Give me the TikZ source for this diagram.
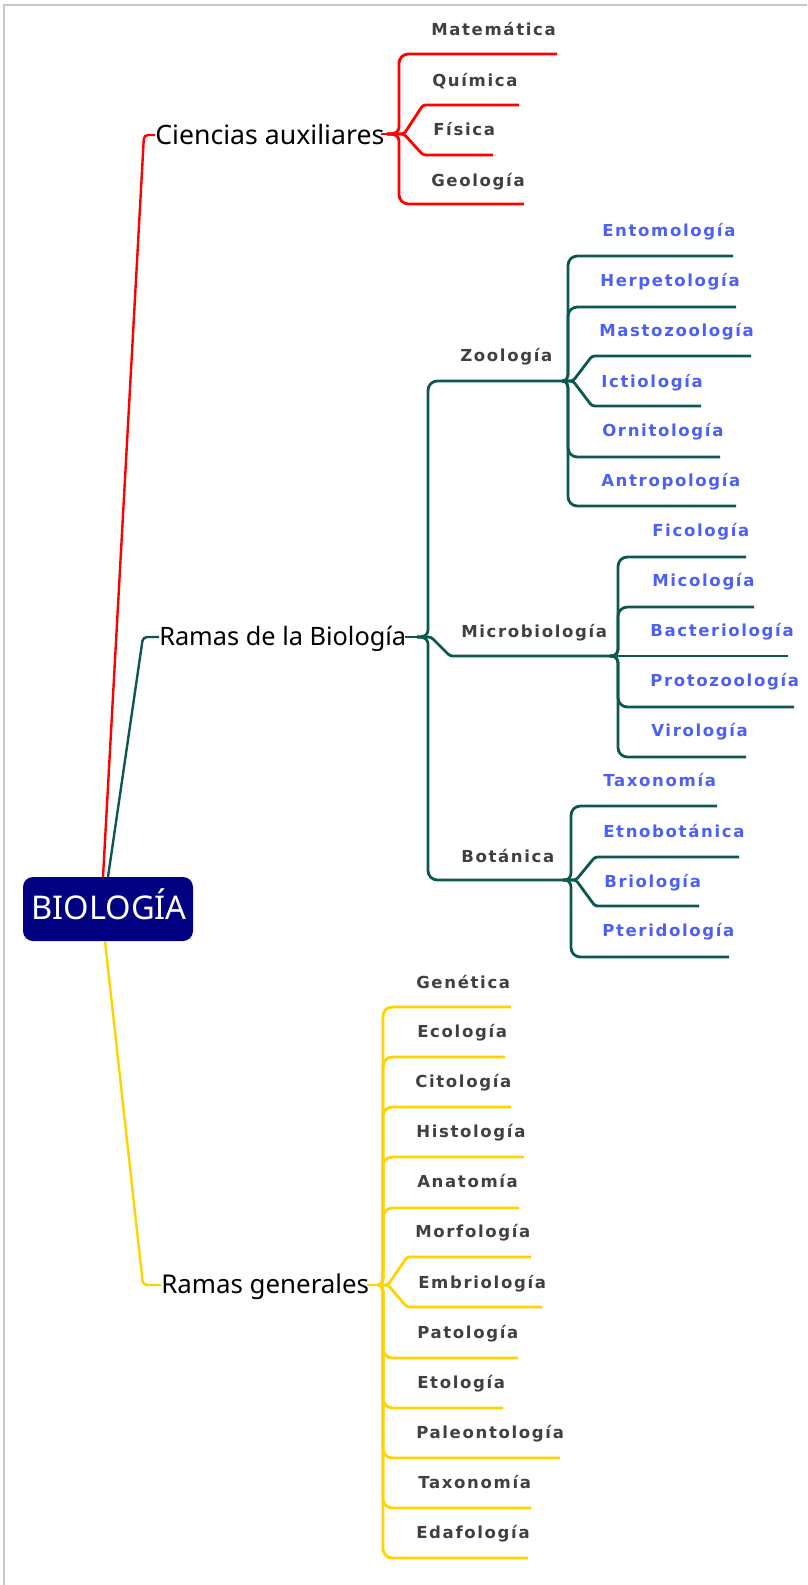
\documentclass[tikz,border=0pt]{standalone}
\usepackage{fontspec}
\setmainfont{Noto Sans}
\IfFontExistsTF{Noto Sans Bold}
  {\newfontfamily\lblfam[LetterSpace=16]{Noto Sans Bold}}
  {\newfontfamily\lblfam[LetterSpace=10]{DejaVu Sans Bold}}
\definecolor{redc}{RGB}{255,0,0}
\definecolor{greenc}{RGB}{12,88,78}
\definecolor{yellowc}{RGB}{255,210,0}
\definecolor{bluec}{RGB}{77,96,245}
\definecolor{grayt}{RGB}{64,64,64}
\definecolor{navyc}{RGB}{0,0,128}
\definecolor{framec}{RGB}{200,200,200}
\newcommand{\brup}[6]{\draw[#1] (#2,#3) .. controls (#4-2,#3) and (#4,#3-2) .. (#4,#3-9) [rounded corners=7pt] -- (#4,#5) -- (#6,#5);}
\newcommand{\brdown}[6]{\draw[#1] (#2,#3) .. controls (#4-2,#3) and (#4,#3+2) .. (#4,#3+9) [rounded corners=7pt] -- (#4,#5) -- (#6,#5);}
\newcommand{\brdiag}[6]{\draw[#1, rounded corners=2pt] (#2,#3) -- (#4+5,#3) -- (#4+24,#5) -- (#6,#5);}
\tikzset{
  lbl/.style={inner sep=0pt, anchor=base west, text=grayt, font=\lblfam\fontsize{12.4pt}{14pt}\selectfont},
  leaf/.style={lbl, text=bluec},
  top/.style={inner sep=0pt, anchor=base west, text=black},
  br/.style={line width=2.1pt},
  rbr/.style={br, draw=redc},
  gbr/.style={br, draw=greenc},
  ybr/.style={br, draw=yellowc},
  mainc/.style={line width=1.8pt, rounded corners=3pt}
}
\begin{document}
\begin{tikzpicture}[x=0.75pt, y=-0.75pt]
\useasboundingbox (0,0) rectangle (807,1585);
\draw[framec, line width=1.6pt] (4,1585) -- (4,5) -- (807,5);

% root
\node[fill=navyc, rounded corners=7.5pt, minimum width=127.5pt, minimum height=48pt, inner sep=0pt] (bio) at (108,909) {};
\node[inner sep=0pt, anchor=base, text=white, font=\fontsize{24.5pt}{28pt}\selectfont] (biot) at (109,919) {BIOLOGÍA};

% main connectors
\draw[mainc, draw=redc] (103,877) -- (144,135) -- (155,135);
\draw[mainc, draw=greenc] (108,877) -- (143,637) -- (159,637);
\draw[mainc, draw=yellowc] (105,941) -- (143,1285) -- (161,1285);

% top-level labels
\node[top, font=\fontsize{20pt}{22pt}\selectfont] (cien) at (155,144) {Ciencias auxiliares};
\node[top, font=\fontsize{19pt}{22pt}\selectfont] (ramas) at (159,645) {Ramas de la Biología};
\node[top, font=\fontsize{19.4pt}{22pt}\selectfont] (gen) at (161,1293) {Ramas generales};

% Ciencias auxiliares
\draw[rbr] (381,134) -- (387,134);
\brup{rbr}{387}{134}{399}{54}{557}
\brdiag{rbr}{387}{134}{399}{105}{519}
\brdiag{rbr}{387}{134}{399}{155}{493}
\brdown{rbr}{387}{134}{399}{204}{524}
\node[lbl] (mat) at (431,35) {Matemática};
\node[lbl] (qui) at (432,86) {Química};
\node[lbl] (fis) at (433,135) {Física};
\node[lbl] (geo) at (431,186) {Geología};

% Ramas de la Biologia
\draw[gbr] (405,637) -- (417,637);
\brup{gbr}{417}{637}{428}{381}{562}
\brdiag{gbr}{417}{637}{426}{656}{610}
\brdown{gbr}{417}{637}{428}{880}{563}
\node[lbl] (zoo) at (460,361) {Zoología};
\node[lbl] (micro) at (461,637) {Microbiología};
\node[lbl] (bot) at (461,862) {Botánica};

% Zoologia
\brup{gbr}{562}{381}{568}{256}{733}
\brup{gbr}{562}{381}{568}{307}{736}
\brdiag{gbr}{562}{381}{568}{356}{751}
\brdiag{gbr}{562}{381}{568}{406}{701}
\brdown{gbr}{562}{381}{568}{457}{720}
\brdown{gbr}{562}{381}{568}{506}{736}
\node[leaf] (ento) at (602,236) {Entomología};
\node[leaf] (herp) at (600,286) {Herpetología};
\node[leaf] (mast) at (599,336) {Mastozoología};
\node[leaf] (ict) at (601,387) {Ictiología};
\node[leaf] (orn) at (602,436) {Ornitología};
\node[leaf] (ant) at (601,486) {Antropología};

% Microbiologia
\brup{gbr}{610}{656}{618}{557}{746}
\brup{gbr}{610}{656}{618}{607}{754}
\draw[gbr] (610,656) -- (788,656);
\brdown{gbr}{610}{656}{618}{707}{794}
\brdown{gbr}{610}{656}{618}{757}{746}
\node[leaf] (fic) at (652,536) {Ficología};
\node[leaf] (mic) at (652,586) {Micología};
\node[leaf] (bac) at (650,636) {Bacteriología};
\node[leaf] (pro) at (650,686) {Protozoología};
\node[leaf] (vir) at (651,736) {Virología};

% Botanica
\brup{gbr}{563}{880}{571}{806}{717}
\brdiag{gbr}{563}{880}{571}{857}{739}
\brdiag{gbr}{563}{880}{571}{906}{699}
\brdown{gbr}{563}{880}{571}{957}{729}
\node[leaf] (tax1) at (603,786) {Taxonomía};
\node[leaf] (etn) at (603,837) {Etnobotánica};
\node[leaf] (bri) at (604,887) {Briología};
\node[leaf] (pte) at (602,936) {Pteridología};

% Ramas generales
\draw[ybr] (367,1285) -- (378,1285);
\brup{ybr}{378}{1285}{383}{1007}{511}
\brup{ybr}{378}{1285}{383}{1057}{505}
\brup{ybr}{378}{1285}{383}{1107}{511}
\brup{ybr}{378}{1285}{383}{1157}{524}
\brup{ybr}{378}{1285}{383}{1208}{519}
\brdiag{ybr}{378}{1285}{383}{1257}{531}
\brdiag{ybr}{378}{1285}{383}{1307}{542}
\brdown{ybr}{378}{1285}{383}{1358}{518}
\brdown{ybr}{378}{1285}{383}{1408}{503}
\brdown{ybr}{378}{1285}{383}{1458}{560}
\brdown{ybr}{378}{1285}{383}{1508}{531}
\brdown{ybr}{378}{1285}{383}{1558}{528}
\node[lbl] (gene) at (416,988) {Genética};
\node[lbl] (eco) at (417,1037) {Ecología};
\node[lbl] (cit) at (415,1087) {Citología};
\node[lbl] (his) at (416,1137) {Histología};
\node[lbl] (ana) at (417,1187) {Anatomía};
\node[lbl] (mor) at (415,1237) {Morfología};
\node[lbl] (emb) at (418,1288) {Embriología};
\node[lbl] (pat) at (417,1338) {Patología};
\node[lbl] (eto) at (417,1388) {Etología};
\node[lbl] (pal) at (416,1438) {Paleontología};
\node[lbl] (tax2) at (418,1488) {Taxonomía};
\node[lbl] (eda) at (416,1538) {Edafología};
\end{tikzpicture}
\end{document}
